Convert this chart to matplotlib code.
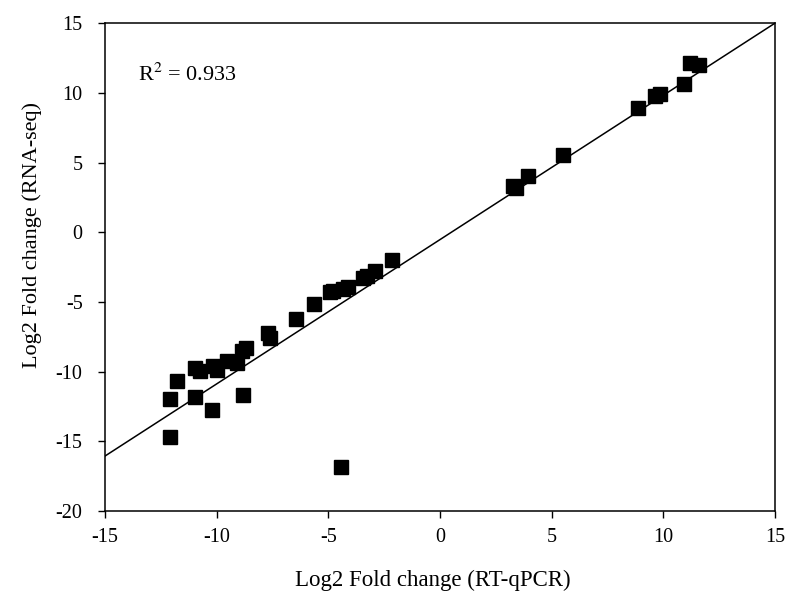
import matplotlib
matplotlib.use("Agg")
import matplotlib.pyplot as plt
import numpy as np

# values
rt_qpcr = [-12.09, -12.09, -11.76, -10.97, -10.97, -10.75, -10.22, -10.15, -10.0,
           -9.55, -9.1, -8.81, -8.88, -8.66, -7.69, -7.61, -6.46, -5.63, -4.43,
           -4.93, -4.78, -4.33, -4.1, -3.43, -3.28, -2.91, -2.16,
           3.28, 3.38, 3.93, 5.49, 8.85, 9.63, 9.85, 10.9, 11.2, 11.57]
rna_seq = [-14.7, -12.0, -10.7, -11.84, -9.73, -9.97, -12.77, -9.61, -9.92,
           -9.25, -9.37, -11.69, -8.54, -8.3, -7.22, -7.58, -6.26, -5.14, -16.86,
           -4.3, -4.2, -4.05, -3.92, -3.32, -3.16, -2.8, -2.03,
           3.3, 3.2, 4.02, 5.57, 8.92, 9.76, 9.92, 10.64, 12.15, 12.03]

fit_slope = 1.036
fit_intercept = -0.53
r_squared = 0.933

plt.rcParams['font.family'] = ['Liberation Serif', 'DejaVu Serif']
plt.rcParams['axes.unicode_minus'] = False

fig = plt.figure(figsize=(8, 6.09), dpi=100)
ax = fig.add_axes([0.131, 0.161, 0.838, 0.801])

# regression line
line_x = np.array([-15, 15])
ax.plot(line_x, fit_slope * line_x + fit_intercept, color='black', lw=1.1, zorder=2)

# data points
ax.plot(rt_qpcr, rna_seq, 's', color='black', ms=10, zorder=3)

ax.set_xlim(-15, 15)
ax.set_ylim(-20, 15)
ax.set_xticks(np.arange(-15, 16, 5))
ax.set_yticks(np.arange(-20, 16, 5))
ax.tick_params(direction='out', length=5, width=1, labelsize=14.5,
               top=False, right=False)
ax.tick_params(axis='x', pad=7)
ax.tick_params(axis='y', pad=11)
for s in ax.spines.values():
    s.set_linewidth(1.1)

ax.text(-13.5, 11.3, r'R$^2$ = %.3f' % r_squared, fontsize=16, va='center',
        math_fontfamily='stix')

ax.set_xlabel('Log2 Fold change (RT-qPCR)', fontsize=16.5)
ax.set_ylabel('Log2 Fold change (RNA-seq)', fontsize=16)
ax.xaxis.set_label_coords(0.49, -0.121)
ax.yaxis.set_label_coords(-0.094, 0.566)

fig.savefig('out.png', dpi=100)
